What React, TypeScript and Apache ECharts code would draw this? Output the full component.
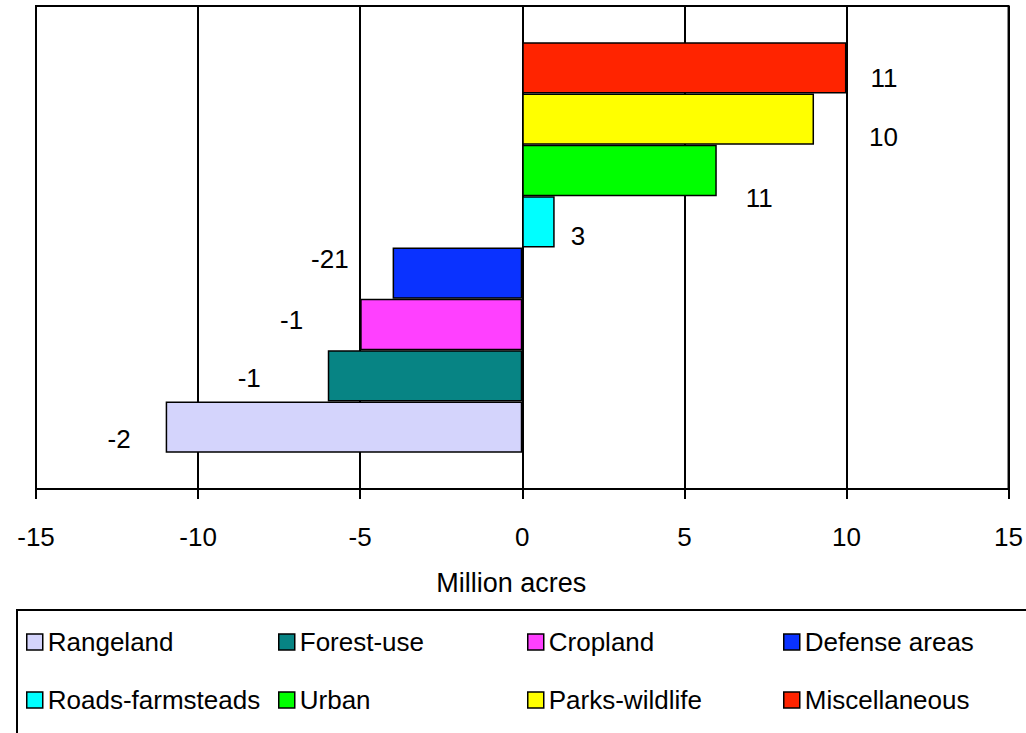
import React, { useEffect, useRef } from "react";
import * as echarts from "echarts";

const seriesNames = ["Rangeland", "Forest-use", "Cropland", "Defense areas", "Roads-farmsteads", "Urban", "Parks-wildlife", "Miscellaneous"];
const seriesValues = [-11, -6, -5, -4, 1, 6, 9, 10];
const labelTexts = ["-2", "-1", "-1", "-21", "3", "11", "10", "11"];
const colors = ["#D4D4FC", "#078484", "#FF40FF", "#0A32FF", "#00FFFF", "#00FF00", "#FFFF00", "#FF2400"];
const labelOffsets = [[-30, 12], [-62, 2], [-52, -4], [-39, -14], [11, 14], [24, 27], [50, 18], [19, 10]];
const xTicks = { min: -15, max: 15, interval: 5 };
const axisTitle = "Million acres";

const legendPos = [
  [26, 627], [278, 627], [527, 627], [783, 627],
  [26, 685], [278, 685], [527, 685], [783, 685],
];
const FONT = "'Liberation Sans', Arial, sans-serif";

export default function App() {
  const ref = useRef<HTMLDivElement>(null);
  useEffect(() => {
    const chart = echarts.init(ref.current!, null, { renderer: "svg" });
    const series = seriesNames.map((name, i) => ({
      name,
      type: "bar",
      data: [seriesValues[i]],
      barGap: "0%",
      barCategoryGap: "15%",
      itemStyle: { color: colors[i], borderColor: "#000", borderWidth: 1.5 },
      label: {
        show: true,
        position: seriesValues[i] < 0 ? "left" : "right",
        distance: 5,
        offset: labelOffsets[i],
        formatter: () => labelTexts[i],
        color: "#000",
        fontSize: 26,
        fontFamily: FONT,
      },
    }));
    const seriesOrdered = series.slice().reverse();
    const legends = seriesNames.map((name, i) => ({
      data: [name],
      left: legendPos[i][0],
      top: legendPos[i][1],
      padding: 0,
      itemWidth: 16,
      itemHeight: 16,
      icon: "rect",
      selectedMode: false,
      itemStyle: { borderColor: "#000", borderWidth: 1.5 },
      textStyle: { fontSize: 26, fontFamily: FONT, color: "#000", lineHeight: 30 },
    }));
    chart.setOption({
      animation: false,
      backgroundColor: "#fff",
      grid: { left: 36, right: 15, top: 6, bottom: 244, show: true, borderColor: "#000", borderWidth: 2, backgroundColor: "transparent" },
      xAxis: {
        type: "value",
        min: xTicks.min,
        max: xTicks.max,
        interval: xTicks.interval,
        name: axisTitle,
        nameLocation: "middle",
        nameGap: 80,
        nameTextStyle: { fontSize: 27, fontFamily: FONT, color: "#000", padding: [0, 22, 0, 0] },
        axisLine: { show: true, lineStyle: { color: "#000", width: 2 } },
        axisTick: { show: true, length: 10, lineStyle: { color: "#000", width: 2 } },
        axisLabel: { margin: 35, fontSize: 26, fontFamily: FONT, color: "#000" },
        splitLine: { show: true, lineStyle: { color: "#000", width: 2 } },
      },
      yAxis: {
        type: "category",
        data: [""],
        axisLine: { show: false },
        axisTick: { show: false },
        axisLabel: { show: false },
      },
      legend: legends,
      graphic: [
        { type: "rect", shape: { x: 17, y: 610, width: 1020, height: 140 }, style: { fill: "none", stroke: "#000", lineWidth: 2 } },
      ],
      series: seriesOrdered,
    });
    return () => chart.dispose();
  }, []);
  return <div ref={ref} style={{ position: "fixed", left: 0, top: 0, width: 1026, height: 733 }} />;
}
